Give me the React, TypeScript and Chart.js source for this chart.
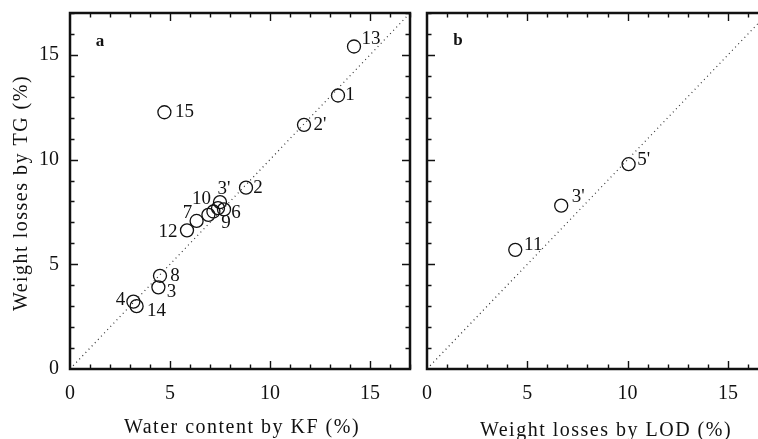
import React, { useEffect, useRef } from 'react';
import { Chart, registerables } from 'chart.js';

Chart.register(...registerables);

const SERIF = '"Liberation Serif", "Times New Roman", serif';

// ---- Panel a: water content by KF vs weight losses by TG ----
const kfLabels = ['13', '1', "2'", '15', '2', "3'", '10', '9', '', '6', '7', '12', '8', '3', '4', '14'];
const kfWater = [14.2, 13.4, 11.7, 4.72, 8.8, 7.5, 7.17, 7.4, 6.92, 7.7, 6.33, 5.85, 4.5, 4.42, 3.17, 3.33];
const kfTG = [15.4, 13.06, 11.66, 12.26, 8.66, 7.97, 7.52, 7.68, 7.36, 7.62, 7.07, 6.62, 4.45, 3.9, 3.22, 3.0];
// label placement (pixel offsets of label centre from the circle)
const kfLabelOffsets = [[17, -7], [12, 0], [16, 0], [20, 0], [12, 0], [4, -13], [-12, -13], [8, 15], [0, 0], [12, 4], [-9, -8], [-19, 2], [15, 0], [13, 5], [-13, -2], [20, 5]];

// ---- Panel b: weight losses by LOD vs weight losses by TG ----
const lodLabels = ['11', "3'", "5'"];
const lodLOD = [4.4, 6.69, 10.05];
const lodTG = [5.69, 7.8, 9.78];
const lodLabelOffsets = [[18, -5], [17, -9], [15, -4]];

// axes
const axisTicks = [0, 5, 10, 15];
const diagonal = [0, 17];
const axisMaxA = 17;
const axisMaxBx = 16.5;

const INK = '#111';

function makePlugin(cfg: {
  right: boolean;
  letter: string;
  letterPos: [number, number];
  xTitle: string;
  xTitlePos: [number, number];
  yTitle?: string;
  yTitlePos?: [number, number];
  labels: string[];
  offsets: number[][];
}) {
  return {
    id: 'decor',
    afterDraw(chart: any) {
      const { ctx, chartArea } = chart;
      const { left, right, top, bottom } = chartArea;
      const xs = chart.scales.x;
      const ys = chart.scales.y;
      ctx.save();
      // point labels
      const meta = chart.getDatasetMeta(1);
      ctx.fillStyle = INK;
      ctx.font = `19px ${SERIF}`;
      ctx.textAlign = 'center';
      ctx.textBaseline = 'middle';
      meta.data.forEach((el: any, i: number) => {
        const t = cfg.labels[i];
        if (!t) return;
        const o = cfg.offsets[i];
        ctx.fillText(t, el.x + o[0], el.y + o[1]);
      });
      // tick marks (inside)
      ctx.strokeStyle = INK;
      ctx.lineWidth = 1.4;
      ctx.beginPath();
      for (let v = Math.ceil(xs.min); v <= xs.max; v++) {
        if (v === 0) continue;
        const p = Math.round(xs.getPixelForValue(v)) + 0.5;
        const len = v % 5 === 0 ? 8 : 4.5;
        ctx.moveTo(p, bottom);
        ctx.lineTo(p, bottom - len);
        ctx.moveTo(p, top);
        ctx.lineTo(p, top + len);
      }
      for (let v = Math.ceil(ys.min); v <= ys.max; v++) {
        if (v === 0) continue;
        const p = Math.round(ys.getPixelForValue(v)) + 0.5;
        const len = v % 5 === 0 ? 8 : 4.5;
        ctx.moveTo(left, p);
        ctx.lineTo(left + len, p);
        if (cfg.right) {
          ctx.moveTo(right, p);
          ctx.lineTo(right - len, p);
        }
      }
      ctx.stroke();
      // frame
      ctx.lineWidth = 2.5;
      ctx.beginPath();
      if (cfg.right) {
        ctx.rect(left, top, right - left, bottom - top);
      } else {
        ctx.moveTo(right + 3, top);
        ctx.lineTo(left, top);
        ctx.lineTo(left, bottom);
        ctx.lineTo(right + 3, bottom);
      }
      ctx.stroke();
      // panel letter
      ctx.font = `bold 17px ${SERIF}`;
      ctx.textAlign = 'center';
      ctx.fillText(cfg.letter, cfg.letterPos[0], cfg.letterPos[1]);
      // titles
      ctx.font = `20px ${SERIF}`;
      (ctx as any).letterSpacing = '1.5px';
      ctx.fillText(cfg.xTitle, cfg.xTitlePos[0], cfg.xTitlePos[1]);
      if (cfg.yTitle && cfg.yTitlePos) {
        ctx.translate(cfg.yTitlePos[0], cfg.yTitlePos[1]);
        ctx.rotate(-Math.PI / 2);
        ctx.fillText(cfg.yTitle, 0, 0);
      }
      ctx.restore();
    },
  };
}

function buildChart(
  canvas: HTMLCanvasElement,
  xs: number[],
  ys: number[],
  xMax: number,
  showY: boolean,
  yWidth: number,
  padRight: number,
  plugin: any
) {
  const pts = xs.map((x, i) => ({ x, y: ys[i] }));
  const diag = diagonal.map((v) => ({ x: v, y: v }));
  const setTicks = (scale: any) => {
    scale.ticks = axisTicks.map((v) => ({ value: v }));
  };
  return new Chart(canvas, {
    type: 'scatter',
    data: {
      datasets: [
        {
          type: 'line',
          data: diag,
          showLine: true,
          borderColor: '#333',
          borderWidth: 1.2,
          borderDash: [1, 3.5],
          pointRadius: 0,
          fill: false,
        } as any,
        {
          data: pts,
          pointRadius: 6.5,
          pointHoverRadius: 6.5,
          pointBorderWidth: 1.3,
          pointBackgroundColor: 'rgba(0,0,0,0)',
          pointBorderColor: INK,
        },
      ],
    },
    options: {
      responsive: false,
      animation: false,
      events: [],
      layout: { padding: { top: 13, right: padRight, left: 0, bottom: 0 }, autoPadding: false } as any,
      plugins: { legend: { display: false }, tooltip: { enabled: false } },
      scales: {
        x: {
          type: 'linear',
          min: 0,
          max: xMax,
          afterBuildTicks: setTicks,
          afterFit: (s: any) => {
            s.height = 70;
            s.paddingLeft = 0;
            s.paddingRight = 0;
          },
          grid: { display: false, drawTicks: false },
          border: { display: false },
          ticks: { padding: 13, color: INK, font: { family: SERIF, size: 20 }, maxRotation: 0 },
        },
        y: {
          type: 'linear',
          min: 0,
          max: axisMaxA,
          afterBuildTicks: setTicks,
          afterFit: (s: any) => {
            s.width = yWidth;
            s.paddingTop = 0;
            s.paddingBottom = 0;
          },
          grid: { display: false, drawTicks: false },
          border: { display: false },
          ticks: { display: showY, padding: 11, color: INK, font: { family: SERIF, size: 20 } },
        },
      },
    },
    plugins: [plugin],
  });
}

export default function App() {
  const refA = useRef<HTMLCanvasElement>(null);
  const refB = useRef<HTMLCanvasElement>(null);

  useEffect(() => {
    const a = buildChart(
      refA.current!,
      kfWater,
      kfTG,
      axisMaxA,
      true,
      70,
      10,
      makePlugin({
        right: true,
        letter: 'a',
        letterPos: [100, 42],
        xTitle: 'Water content by KF (%)',
        xTitlePos: [242, 428],
        yTitle: 'Weight losses by TG (%)',
        yTitlePos: [22, 193],
        labels: kfLabels,
        offsets: kfLabelOffsets,
      })
    );
    const b = buildChart(
      refB.current!,
      lodLOD,
      lodTG,
      axisMaxBx,
      false,
      15,
      0,
      makePlugin({
        right: false,
        letter: 'b',
        letterPos: [46, 41],
        xTitle: 'Weight losses by LOD (%)',
        xTitlePos: [194, 431],
        labels: lodLabels,
        offsets: lodLabelOffsets,
      })
    );
    return () => {
      a.destroy();
      b.destroy();
    };
  }, []);

  return (
    <div style={{ position: 'fixed', left: 0, top: 0, width: 758, height: 439, background: '#fff', overflow: 'hidden' }}>
      <canvas ref={refA} width={420} height={439} style={{ position: 'absolute', left: 0, top: 0, width: 420, height: 439 }} />
      <canvas ref={refB} width={346} height={439} style={{ position: 'absolute', left: 412, top: 0, width: 346, height: 439 }} />
    </div>
  );
}
